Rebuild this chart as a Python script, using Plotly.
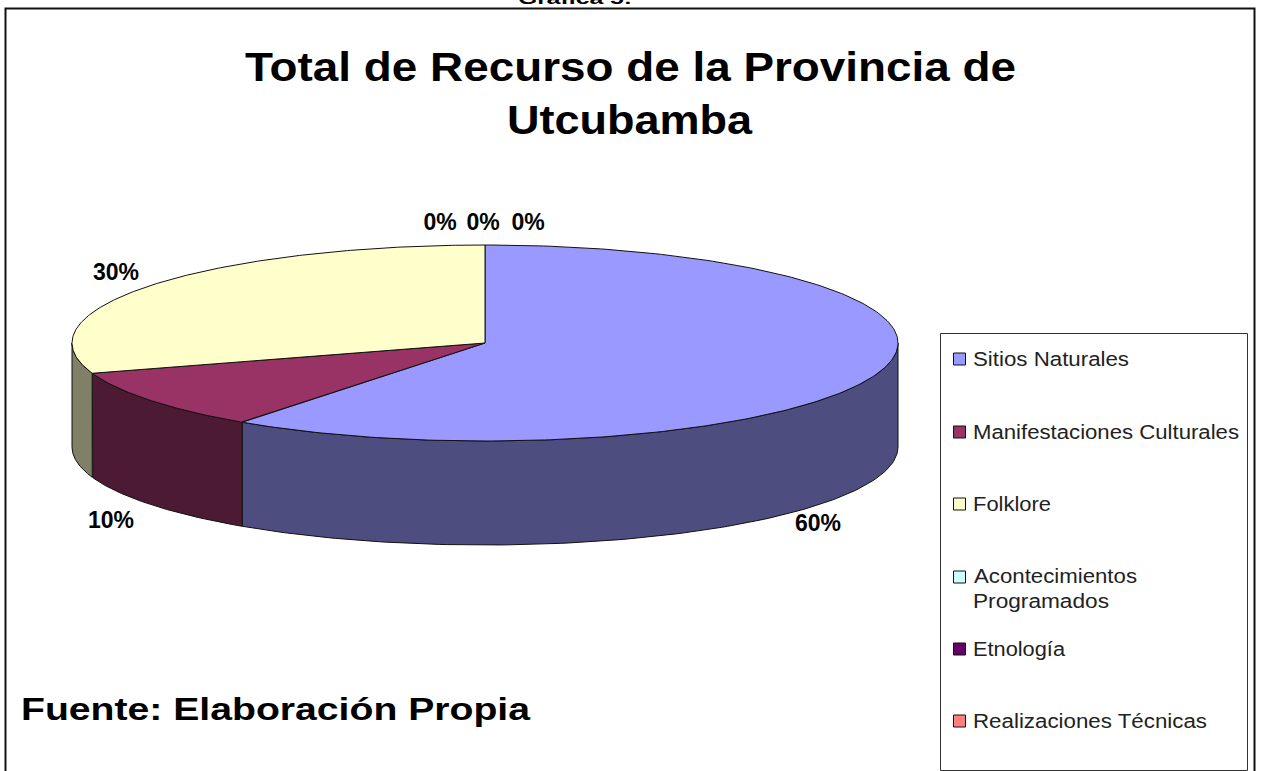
import json
import numpy as np
import plotly.graph_objects as go

categories = ["Sitios Naturales", "Manifestaciones Culturales", "Folklore",
              "Acontecimientos Programados", "Etnología", "Realizaciones Técnicas"]
values = [60, 10, 30, 0, 0, 0]
top_colors = ["#9999FF", "#993366", "#FFFFCC", "#CCFFFF", "#660066", "#FF8080"]
side_colors = ["#4D4D80", "#4D1A33", "#808066", "#668080", "#330033", "#804040"]
title_lines = ["Total de Recurso de la Provincia de", "Utcubamba"]
source_text = "Fuente: Elaboración Propia"
heading_text = "Gráfica 5:"

CX, CY, RX, RY, DEPTH = 485, 343, 413, 98, 104
label_pos = [(818, 525), (111, 522), (116, 274), (440, 224), (483, 224), (528, 224)]
legend_y = [359, 432, 504, 577, 649, 721]
FONT = "Liberation Sans"

# left edge and rendered width of the stretched bitmap text in the original
text_boxes = {
    "Total de Recurso de la Provincia de": [245, 771], "Utcubamba": [507, 245],
    "Fuente: Elaboración Propia": [21, 509], "Gráfica 5:": [518, 114],
    "Sitios Naturales": [973, 156], "Manifestaciones Culturales": [973, 266],
    "Folklore": [973, 78], "Acontecimientos": [974, 163], "Programados": [973, 136],
    "Etnología": [973, 92], "Realizaciones Técnicas": [973, 234],
}


def ell(t):
    return CX + RX * np.sin(t), CY - RY * np.cos(t)


fig = go.Figure()
total = sum(values)
edges = np.radians(np.cumsum([0] + values) / total * 360)

# sides (front half only)
for i, v in enumerate(values):
    a, b = max(edges[i], np.pi / 2), min(edges[i + 1], 3 * np.pi / 2)
    if v == 0 or b <= a:
        continue
    t = np.linspace(a, b, 120)
    x, y = ell(t)
    fig.add_trace(go.Scatter(
        x=np.r_[x, x[::-1], x[0]], y=np.r_[y, y[::-1] + DEPTH, y[0]],
        mode="lines", fill="toself", fillcolor=side_colors[i],
        line=dict(color="#111111", width=1), hoverinfo="skip", showlegend=False))
# top faces
for i, v in enumerate(values):
    if v == 0:
        continue
    t = np.linspace(edges[i], edges[i + 1], 240)
    x, y = ell(t)
    fig.add_trace(go.Scatter(
        x=np.r_[CX, x, CX], y=np.r_[CY, y, CY],
        mode="lines", fill="toself", fillcolor=top_colors[i],
        line=dict(color="#111111", width=1), hoverinfo="skip", showlegend=False))

# percent labels
pct = [f"{round(v / total * 100)}%" for v in values]
fig.add_trace(go.Scatter(
    x=[p[0] for p in label_pos], y=[p[1] for p in label_pos], text=pct,
    mode="text", textposition="middle center",
    textfont=dict(family=FONT, size=23, color="#000000", weight=700),
    hoverinfo="skip", showlegend=False))

# legend keys
fig.add_trace(go.Scatter(
    x=[959.5] * 6, y=legend_y, mode="markers",
    marker=dict(symbol="square", size=12, color=top_colors, line=dict(color="#111111", width=1)),
    hoverinfo="skip", showlegend=False))


def note(x, y, text, size, xanchor="center", color="#000000", weight=700, yshift=0):
    return dict(x=x, y=y, text=text, xref="x", yref="y", xanchor=xanchor, yanchor="middle",
                yshift=yshift, showarrow=False,
                font=dict(family=FONT, size=size, color=color, weight=weight))


annotations = []
for name, y in zip(categories, legend_y):
    if name == "Acontecimientos Programados":
        first, second = name.split(" ")
        annotations.append(note(973, y - 1, first, 20, "left", "#222222", 400))
        annotations.append(note(973, y + 24, second, 20, "left", "#222222", 400))
    else:
        annotations.append(note(973, y, name, 20, "left", "#222222", 400))
annotations += [
    note(631, 67, title_lines[0], 40),
    note(630, 120, title_lines[1], 40),
    note(21, 709, source_text, 32, "left"),
    note(575, 1, heading_text, 16, yshift=3),
]

shapes = [
    dict(type="rect", xref="x", yref="y", x0=5.5, y0=8.5, x1=1254.5, y1=790,
         line=dict(color="#111111", width=2), layer="below"),
    dict(type="rect", xref="x", yref="y", x0=940.5, y0=333.5, x1=1247.5, y1=770.5,
         line=dict(color="#333333", width=1), layer="below"),
]

fig.update_layout(
    width=1261, height=771, margin=dict(l=0, r=0, t=0, b=0),
    paper_bgcolor="white", plot_bgcolor="white", showlegend=False,
    xaxis=dict(range=[0, 1261], visible=False, fixedrange=True),
    yaxis=dict(range=[771, 0], visible=False, fixedrange=True),
    annotations=annotations, shapes=shapes,
)

post = """
document.body.style.margin = '0';
document.body.style.overflow = 'hidden';
var boxes = %s;
document.querySelectorAll('.annotation-text').forEach(function (el) {
  var box = boxes[el.textContent];
  if (box) {
    el.setAttribute('textLength', box[1]);
    el.setAttribute('lengthAdjust', 'spacingAndGlyphs');
    var dx = box[0] - el.getBoundingClientRect().left;
    el.setAttribute('x', parseFloat(el.getAttribute('x')) + dx);
  }
});
""" % json.dumps(text_boxes, ensure_ascii=False)
fig.write_html("out.html", config={"displayModeBar": False}, post_script=post)
